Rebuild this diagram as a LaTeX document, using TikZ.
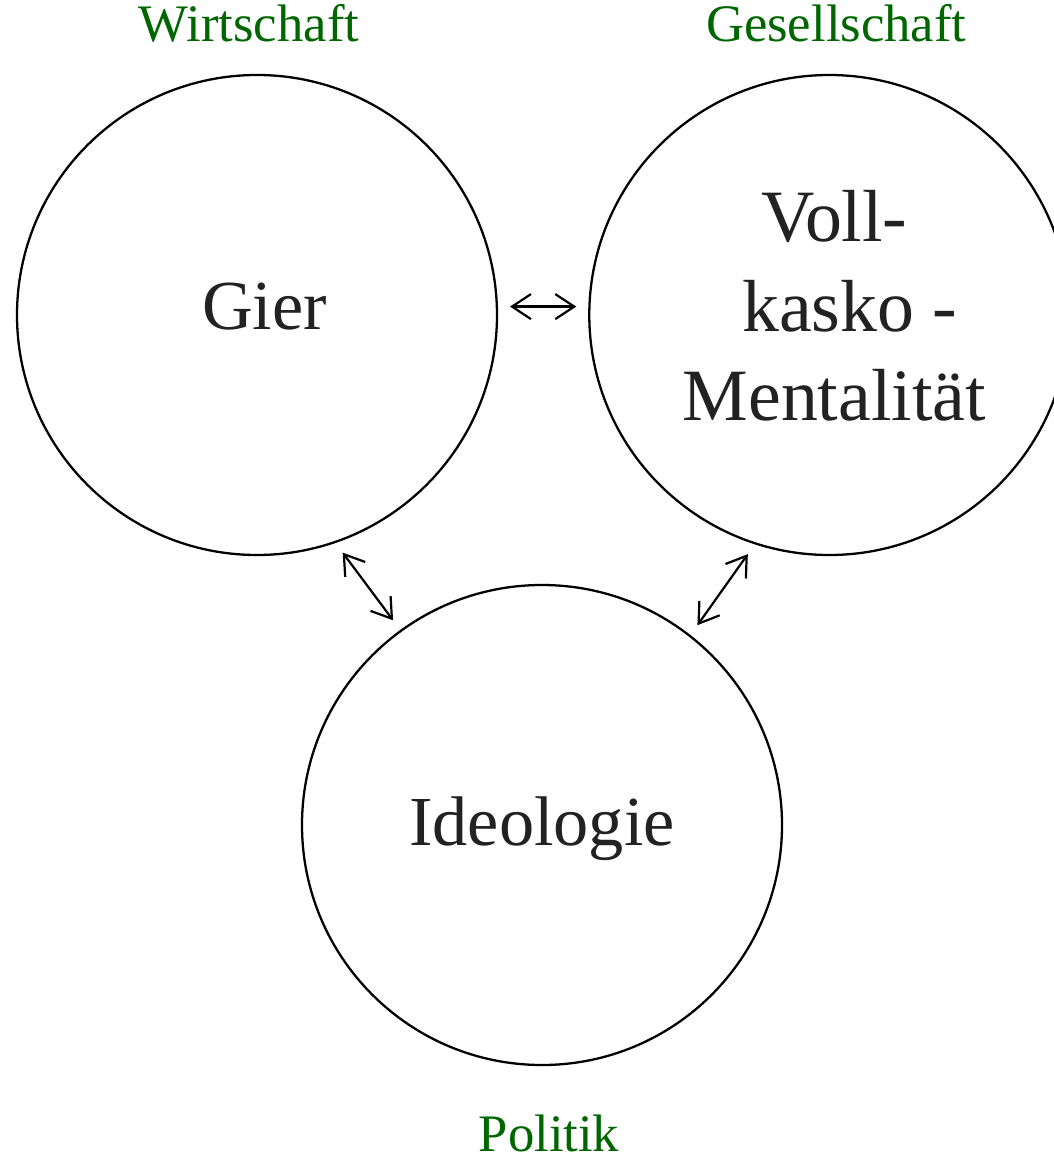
\documentclass[tikz,border=0pt]{standalone}
\usepackage{fontspec}
\setmainfont{Liberation Serif}
\usepackage{xcolor}
\usetikzlibrary{arrows.meta,positioning}
\definecolor{lbgreen}{HTML}{006600}
\definecolor{lbtext}{HTML}{222222}

\begin{document}
\begin{tikzpicture}[
  field/.style={draw=black,circle,line width=1.3pt,minimum size=9.6cm,inner sep=0pt},
  word/.style={text=lbtext,inner sep=0pt,align=center,font=\fontsize{40}{50}\selectfont},
  bigword/.style={word,font=\fontsize{42}{51}\selectfont},
  area/.style={text=lbgreen,inner sep=0pt,anchor=base,font=\fontsize{30}{36}\selectfont},
  link/.style={{Straight Barb[length=3.8mm,width=5mm]}-{Straight Barb[length=3.8mm,width=5mm]},line width=1.25pt,shorten <=0.24cm,shorten >=0.24cm}
]
  \useasboundingbox (0,0) rectangle (21.06,-23.22);
  % the three fields
  \node[field] (gier) at (5.14,-6.3) {};
  \node[field,right=1.8cm of gier] (vollkasko) {};
  \node[field] (ideologie) at (10.84,-16.5) {};
  \node[word] (giertext) at ([xshift=0.15cm,yshift=0.16cm]gier.center) {Gier};
  \node[bigword] (vollkaskotext) at ([xshift=0.1cm,yshift=0.18cm]vollkasko.center) {Voll-\\\hspace*{0.62cm}kasko -\\Mentalität};
  \node[word] (ideologietext) at ([yshift=-0.07cm]ideologie.center) {Ideologie};
  % areas
  \node[area] (wirtschaft) at ([xshift=-0.16cm,yshift=0.64cm]gier.north) {Wirtschaft};
  \node[area] (gesellschaft) at ([xshift=0.14cm,yshift=0.64cm]vollkasko.north) {Gesellschaft};
  \node[area] (politik) at ([xshift=0.14cm,yshift=-1.7cm]ideologie.south) {Politik};
  \draw[link] (gier.2) -- (vollkasko.178);
  \draw[link] (gier.-71) -- (ideologie.126);
  \draw[link] (vollkasko.-108) -- (ideologie.52);
\end{tikzpicture}
\end{document}
